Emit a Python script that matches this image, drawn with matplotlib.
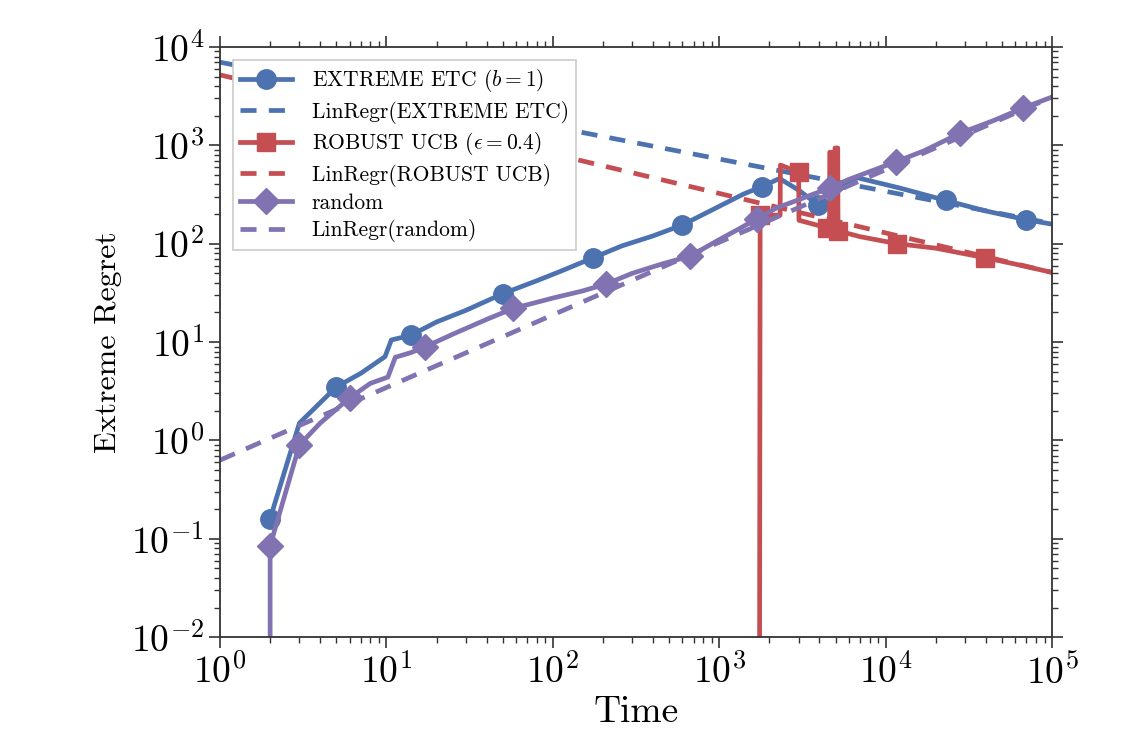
import matplotlib
matplotlib.use('Agg')
import numpy as np
import matplotlib.pyplot as plt

matplotlib.rcParams.update({'font.family': 'serif', 'font.serif': ['cmr10'],
                            'mathtext.fontset': 'cm', 'axes.unicode_minus': False,
                            'axes.formatter.use_mathtext': True, 'font.size': 16})

# colours (old seaborn deep)
c_etc = '#4C72B0'
c_ucb = '#C44E52'
c_rnd = '#8172B2'

# Extreme ETC (b = 1)
t_etc = [2, 3, 5, 7, 9.8, 10.7, 14, 20, 30, 50, 80, 110, 175, 260, 400, 600,
         1000, 1400, 1800, 2300, 3000, 3900, 4600, 5000, 6700, 12000, 23000,
         40000, 70000, 100000]
etc = [0.16, 1.5, 3.5, 4.8, 7.1, 10.5, 11.7, 16, 21, 31, 42, 52, 72, 95, 120,
       155, 240, 320, 380, 460, 350, 250, 240, 330, 470, 370, 275, 215, 175, 158]
etc_marks = [0, 2, 6, 9, 12, 15, 18, 21, 26, 28]

# Robust UCB (eps = 0.4); values below 1e-2 are off the axis
t_ucb = [1, 1740, 1760, 2320, 2330, 3000, 3010, 4440, 4600, 4610, 4800, 4810,
         4950, 4960, 5150, 5170, 7000, 11700, 20000, 39500, 60000, 100000]
ucb = [1e-4, 1e-4, 195, 195, 630, 535, 173, 145, 148, 850, 850, 160,
       160, 940, 940, 135, 118, 100, 90, 72, 62, 51]
ucb_marks = [2, 5, 7, 15, 17, 19]

# random
t_rnd = [2, 2, 3, 4, 6, 8, 10.2, 11.3, 14, 17, 25, 40, 58, 100, 150, 210, 300,
         450, 670, 1000, 1300, 1690, 2200, 3000, 4630, 6000, 8000, 11500, 17000,
         28000, 45000, 67000, 100000]
rnd = [1e-4, 0.085, 0.9, 1.5, 2.7, 3.8, 4.4, 7.0, 7.8, 8.9, 12, 17, 22, 28, 33,
       39, 50, 62, 75, 110, 140, 180, 230, 280, 370, 450, 540, 680, 880,
       1330, 1800, 2400, 3100]
rnd_marks = [1, 2, 4, 9, 12, 15, 18, 21, 24, 27, 29, 31]

# linear regression fits (log-log), values at t = 1 and t = 1e5
t_fit = [1, 100000]
etc_fit = [7000, 160]
ucb_fit = [5200, 51]
rnd_fit = [0.63, 3100]

fig = plt.figure(figsize=(11.43, 7.34), dpi=100)
ax = fig.add_subplot(111)
fig.subplots_adjust(left=0.1925, right=0.9205, bottom=0.132, top=0.936)

lw = 3.4
ms = 14
dash = (3.4, 2.6)
ax.plot(t_etc, etc, color=c_etc, lw=lw, marker='o', ms=ms, markevery=etc_marks,
        label=r'EXTREME ETC ($b=1$)')
ax.plot(t_fit, etc_fit, color=c_etc, lw=lw, ls='--', dashes=dash,
        label='LinRegr(EXTREME ETC)')
ax.plot(t_ucb, ucb, color=c_ucb, lw=lw, marker='s', ms=ms - 1, markevery=ucb_marks,
        label=r'ROBUST UCB ($\epsilon=0.4$)')
ax.plot(t_fit, ucb_fit, color=c_ucb, lw=lw, ls='--', dashes=dash,
        label='LinRegr(ROBUST UCB)')
ax.plot(t_rnd, rnd, color=c_rnd, lw=lw, marker='D', ms=ms - 1, markevery=rnd_marks,
        label='random')
ax.plot(t_fit, rnd_fit, color=c_rnd, lw=lw, ls='--', dashes=dash,
        label='LinRegr(random)')

ax.set_xscale('log')
ax.set_yscale('log', nonpositive='clip')
ax.set_xlim(1, 1e5)
ax.set_ylim(1e-2, 1e4)

ax.tick_params(which='both', direction='out', top=True, right=True,
               color='#333333', labelsize=27)
ax.tick_params(which='major', length=8, width=1.2)
ax.tick_params(which='minor', length=4, width=1)
for s in ax.spines.values():
    s.set_color('#333333')
    s.set_linewidth(1.3)

ax.set_xlabel('Time', fontsize=27, labelpad=4)
ax.set_ylabel('Extreme Regret', fontsize=23, labelpad=6)

leg = ax.legend(loc='upper left', fontsize=15.5, handlelength=2.4, fancybox=False,
                framealpha=1, borderaxespad=0.6, labelspacing=0.3,
                handletextpad=0.9, borderpad=0.35)
leg.get_frame().set_edgecolor('#cccccc')
leg.get_frame().set_linewidth(1.2)

plt.savefig('out.png', dpi=100)
